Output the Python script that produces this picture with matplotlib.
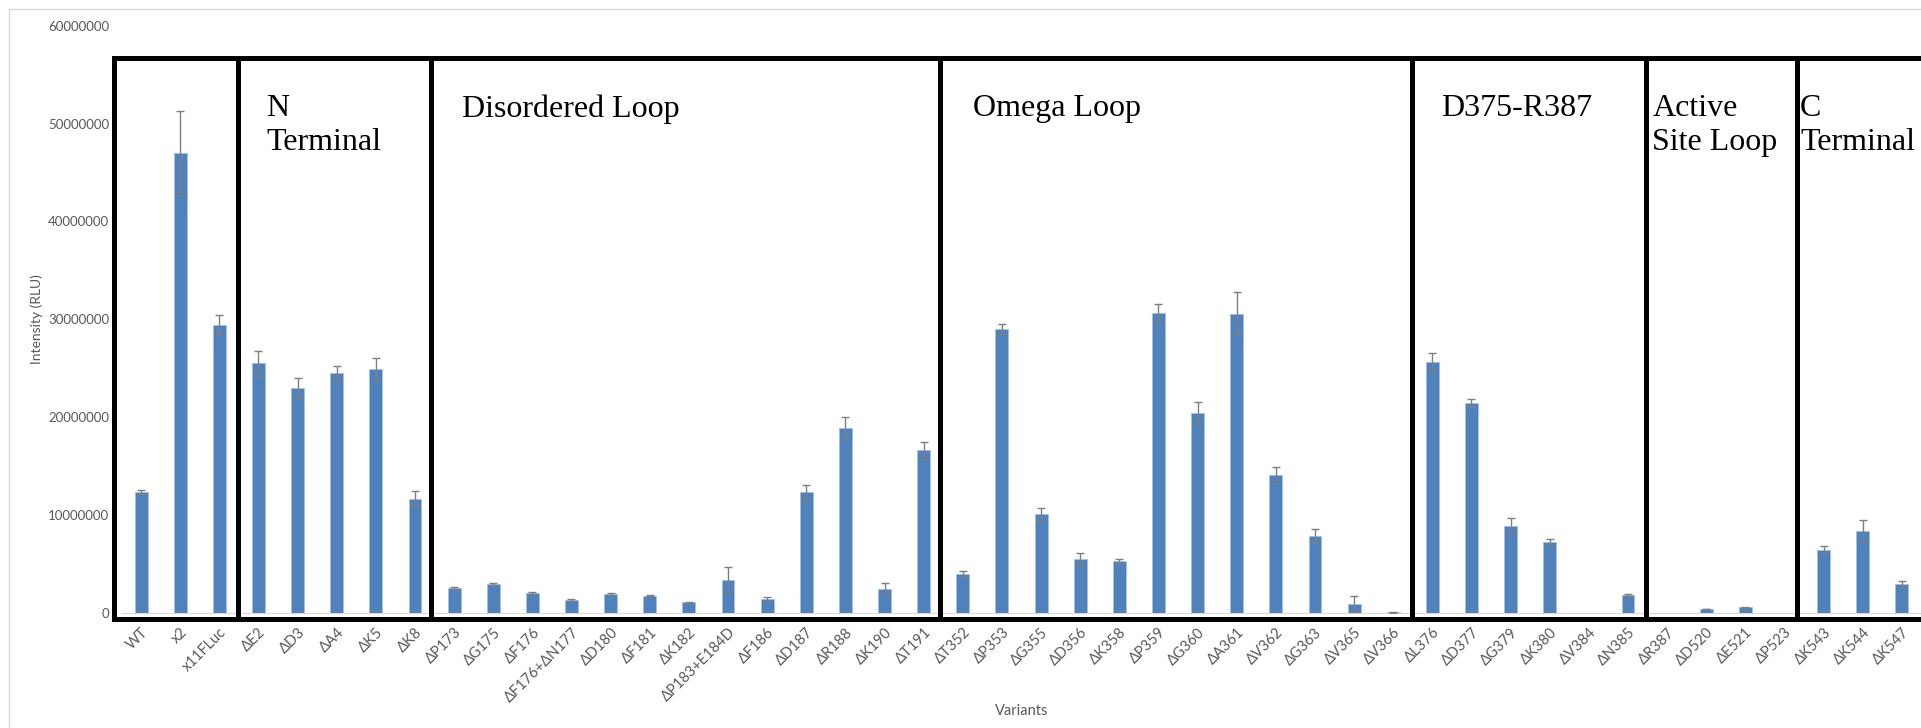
import numpy as np
import matplotlib.pyplot as plt
from matplotlib.lines import Line2D

# luciferase deletion variants, mean intensity and error (RLU)
variants = ["WT", "x2", "x11FLuc",
            "ΔE2", "ΔD3", "ΔA4", "ΔK5", "ΔK8",
            "ΔP173", "ΔG175", "ΔF176", "ΔF176+ΔN177", "ΔD180", "ΔF181", "ΔK182",
            "ΔP183+E184D", "ΔF186", "ΔD187", "ΔR188", "ΔK190", "ΔT191",
            "ΔT352", "ΔP353", "ΔG355", "ΔD356", "ΔK358", "ΔP359", "ΔG360", "ΔA361",
            "ΔV362", "ΔG363", "ΔV365", "ΔV366",
            "ΔL376", "ΔD377", "ΔG379", "ΔK380", "ΔV384", "ΔN385",
            "ΔR387", "ΔD520", "ΔE521", "ΔP523",
            "ΔK543", "ΔK544", "ΔK547"]
intensity = [12.3, 47.0, 29.4,
             25.5, 23.0, 24.5, 24.9, 11.65,
             2.55, 2.9, 2.04, 1.31, 1.9, 1.76, 1.06,
             3.34, 1.4, 12.3, 18.9, 2.48, 16.6,
             4.0, 29.0, 10.05, 5.5, 5.3, 30.6, 20.4, 30.55,
             14.06, 7.84, 0.89, 0.05,
             25.64, 21.46, 8.9, 7.25, 0.0, 1.83,
             0.0, 0.4, 0.55, 0.0,
             6.42, 8.32, 2.93]
error = [0.2, 4.3, 1.0,
         1.25, 1.0, 0.75, 1.15, 0.75,
         0.12, 0.1, 0.1, 0.07, 0.1, 0.08, 0.03,
         1.3, 0.26, 0.8, 1.15, 0.52, 0.9,
         0.24, 0.5, 0.65, 0.65, 0.2, 0.93, 1.15, 2.2,
         0.8, 0.75, 0.82, 0.02,
         0.9, 0.4, 0.8, 0.27, 0.0, 0.07,
         0.0, 0.03, 0.04, 0.0,
         0.45, 1.2, 0.35]

# region boxes: divider positions (category units) and their titles
dividers = [-0.68, 2.47, 7.4, 20.42, 32.48, 38.47, 42.33]
regions = ["N\nTerminal", "Disordered Loop", "Omega Loop", "D375-R387",
           "Active\nSite Loop", "C\nTerminal"]
region_x = [3.2, 8.19, 21.25, 33.21, 38.62, 42.4]

vals = np.array(intensity) * 1e6
errs = np.array(error) * 1e6
x = np.arange(len(variants))

W, H = 1921, 728
fig = plt.figure(figsize=(W / 100, H / 100), dpi=100)
ax = fig.add_axes([121.5 / W, 115.2 / H, 46 * 39.13 / W, 587.1 / H])

grey = "#595959"
ax.bar(x, vals, width=0.33, color="#4f81bd", edgecolor="#a7c0de", linewidth=0.6, zorder=2)
m = errs > 0
ax.errorbar(x[m], vals[m], yerr=errs[m], fmt="none", ecolor="#7f7f7f",
            elinewidth=1, capsize=2.6, capthick=1, zorder=3)

ax.set_xlim(-0.5, 45.5)
ax.set_ylim(0, 60e6)
ax.set_yticks(np.arange(0, 60e6 + 1, 10e6))
ax.set_yticklabels([f"{int(v)}" for v in np.arange(0, 60e6 + 1, 10e6)])
ax.set_xticks(x)
ax.set_xticklabels(variants, rotation=45, ha="right", rotation_mode="anchor")
ax.tick_params(axis="both", length=0, colors=grey)
ax.tick_params(axis="y", pad=9, labelsize=9.5)
ax.tick_params(axis="x", pad=9, labelsize=10.5)
for lab in ax.get_xticklabels() + ax.get_yticklabels():
    lab.set_family(["Lato", "DejaVu Sans"])
for s in ["top", "right", "left"]:
    ax.spines[s].set_visible(False)
ax.spines["bottom"].set_color("#d9d9d9")

ax.set_ylabel("Intensity (RLU)", fontsize=10, color=grey, family=["Lato", "DejaVu Sans"])
ax.yaxis.set_label_coords(-0.0436, 0.5)
ax.set_xlabel("Variants", fontsize=10.5, color=grey, family=["Lato", "DejaVu Sans"])
ax.xaxis.set_label_coords(0.5, -0.155)

# black region boxes
top, bottom = 56.73e6, -0.63e6
box = dict(color="black", lw=3.6, clip_on=False, solid_capstyle="projecting", zorder=5)
for d in dividers:
    ax.plot([d, d], [bottom, top], **box)
ax.plot([dividers[0], 47], [top, top], **box)
ax.plot([dividers[0], 47], [bottom, bottom], **box)

for name, rx in zip(regions, region_x):
    ax.text(rx, 53.0e6, name, family="Liberation Serif", fontsize=23,
            va="top", ha="left", linespacing=1.2, clip_on=False, zorder=6)

# chart-area border
fig.add_artist(Line2D([9 / W, 9 / W], [0, 1 - 9 / H], color="#d9d9d9", lw=1))
fig.add_artist(Line2D([9 / W, 1], [1 - 9 / H, 1 - 9 / H], color="#d9d9d9", lw=1))

fig.savefig("out.png", dpi=100)
